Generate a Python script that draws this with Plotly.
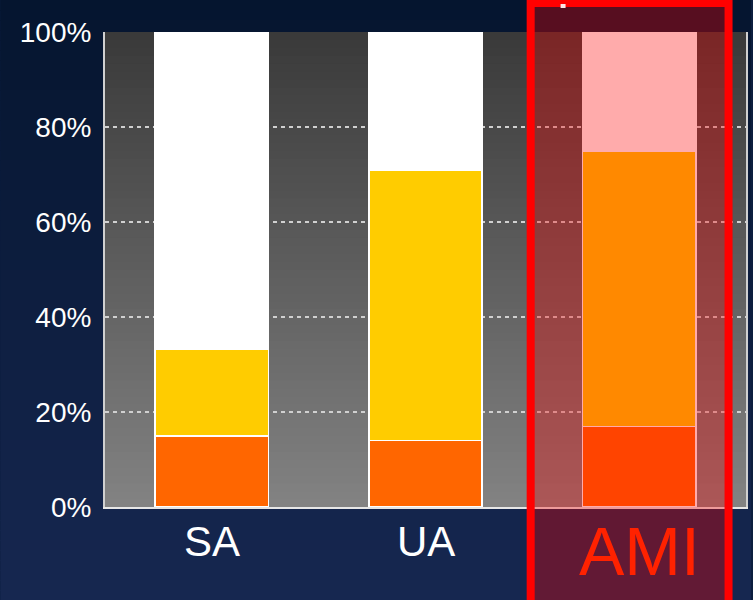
import plotly.graph_objects as go

# Share of patients per group, stacked to 100 %
groups = ["SA", "UA", "AMI"]
bottom_share = [15.0, 14.0, 17.0]   # orange segment
middle_share = [18.3, 57.0, 58.0]   # yellow segment
top_share = [66.7, 29.0, 25.0]      # white segment
y_ticks = [0, 20, 40, 60, 80, 100]

W, H = 753, 600
ML, MR, MT, MB = 105, 5, 32, 93
PW, PH = W - ML - MR, H - MT - MB


def px_to_paper_x(px):
    return (px - ML) / PW


def px_to_paper_y(py):
    return (H - MB - py) / PH


def lerp(c0, c1, t):
    return tuple(round(a + (b - a) * t) for a, b in zip(c0, c1))


fig = go.Figure()

seg_colors = ["#ff6600", "#ffcc00", "#ffffff"]
for vals, col in zip([bottom_share, middle_share, top_share], seg_colors):
    fig.add_trace(go.Bar(
        x=groups,
        y=[v / 100 for v in vals],
        width=0.53,
        marker=dict(color=col, line=dict(color="#ffffff", width=1.5)),
        showlegend=False,
        hoverinfo="skip",
    ))

shapes = []

# page background: navy vertical gradient
n = 60
top_navy, bot_navy = (5, 21, 47), (22, 39, 80)
x0p, x1p = px_to_paper_x(0), px_to_paper_x(W)
for i in range(n):
    c = lerp(top_navy, bot_navy, i / (n - 1))
    y_top = px_to_paper_y(i * H / n)
    y_bot = px_to_paper_y((i + 1) * H / n + 1)
    shapes.append(dict(type="rect", xref="paper", yref="paper",
                       x0=x0p, x1=x1p, y0=y_bot, y1=y_top,
                       fillcolor="rgb(%d,%d,%d)" % c, line=dict(width=0),
                       layer="below"))

# plot area: dark-to-light gray gradient
top_gray, bot_gray = (58, 58, 58), (130, 130, 130)
for i in range(n):
    c = lerp(top_gray, bot_gray, i / (n - 1))
    y1 = 1 - i / n
    y0 = 1 - (i + 1) / n - 0.002
    shapes.append(dict(type="rect", xref="x domain", yref="y domain",
                       x0=0, x1=1, y0=max(y0, 0), y1=y1,
                       fillcolor="rgb(%d,%d,%d)" % c, line=dict(width=0),
                       layer="below"))

# red highlight frame around the AMI column
shapes.append(dict(type="rect", xref="paper", yref="paper",
                   x0=px_to_paper_x(532), x1=px_to_paper_x(730.5),
                   y0=px_to_paper_y(615), y1=px_to_paper_y(3),
                   fillcolor="rgba(255,0,0,0.33)",
                   line=dict(color="#ff0000", width=8),
                   layer="above"))
# small white tick on the frame's top edge
shapes.append(dict(type="rect", xref="paper", yref="paper",
                   x0=px_to_paper_x(562), x1=px_to_paper_x(567),
                   y0=px_to_paper_y(8), y1=px_to_paper_y(4),
                   fillcolor="#ffe8e8", line=dict(width=0),
                   layer="above"))

annotations = []
label_style = {
    "SA": dict(size=42, color="#ffffff", base=558),
    "UA": dict(size=42, color="#ffffff", base=558),
    "AMI": dict(size=68, color="#ff2200", base=577),
}
for g in groups:
    st = label_style[g]
    annotations.append(dict(
        x=g, xref="x", y=px_to_paper_y(st["base"] + st["size"] * 0.21),
        yref="paper", yanchor="bottom", text=g, showarrow=False,
        font=dict(family="Liberation Sans, Arial, sans-serif",
                  size=st["size"], color=st["color"]),
    ))

fig.update_layout(
    width=W, height=H,
    margin=dict(l=ML, r=MR, t=MT, b=MB),
    paper_bgcolor="rgb(12,30,62)",
    plot_bgcolor="rgba(0,0,0,0)",
    barmode="stack",
    bargap=0.47,
    shapes=shapes,
    annotations=annotations,
    font=dict(family="Liberation Sans, Arial, sans-serif", color="#ffffff"),
    xaxis=dict(
        type="category", range=[-0.5, 2.5],
        showticklabels=False, showgrid=False, zeroline=False,
        showline=True, linecolor="#e6e6e6", linewidth=2, mirror=False,
        ticks="",
    ),
    yaxis=dict(
        range=[0, 1],
        tickvals=[t / 100 for t in y_ticks],
        ticktext=["%d%%" % t for t in y_ticks],
        tickfont=dict(size=28, color="#ffffff"),
        ticklabelstandoff=6,
        showgrid=True, gridcolor="#d0d0d0", gridwidth=1.5,
        griddash="4px,4px",
        zeroline=False,
        showline=True, linecolor="#d0d0d0", linewidth=2, mirror=True,
        ticks="",
    ),
)

fig.write_html("out.html")
